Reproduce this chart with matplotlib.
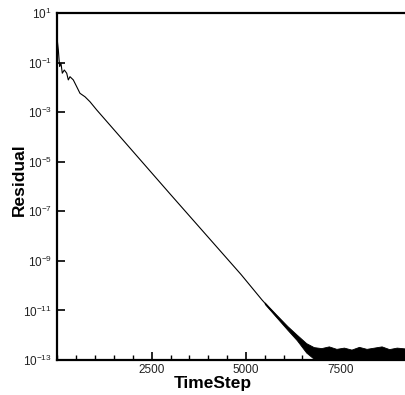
import numpy as np
import matplotlib
matplotlib.use("Agg")
import matplotlib.pyplot as plt
from matplotlib.ticker import FixedLocator, MultipleLocator, FuncFormatter

plt.rcParams['font.family'] = ['Liberation Sans', 'DejaVu Sans']
plt.rcParams['mathtext.fontset'] = 'custom'
plt.rcParams['mathtext.rm'] = 'Liberation Sans'
plt.rcParams['mathtext.it'] = 'Liberation Sans'
plt.rcParams['mathtext.bf'] = 'Liberation Sans:bold'

# residual history (log10 of residual)
steps = [0, 25, 45, 60, 95, 130, 183, 247, 289, 334, 422, 511, 599,
         732, 864, 1042, 3000, 4871, 5424, 5900, 6170, 6440, 6650]
log_res = [-0.15, -0.49, -0.90, -1.16, -1.03, -1.43, -1.30, -1.43, -1.70,
           -1.57, -1.70, -1.97, -2.24, -2.38, -2.58, -2.91, -6.32, -9.55,
           -10.57, -11.38, -11.80, -12.20, -12.50]

# noise band (upper / lower envelope of the oscillating residual)
band_steps = [5500, 5800, 6100, 6350, 6600, 6800, 7000, 7200, 7400, 7600,
              7800, 8000, 8200, 8400, 8600, 8800, 9000, 9200, 9400]
band_hi = [-10.68, -11.16, -11.63, -11.98, -12.32, -12.48, -12.52, -12.45,
           -12.55, -12.50, -12.58, -12.47, -12.55, -12.50, -12.45, -12.56,
           -12.50, -12.53, -12.50]
band_lo = [-10.74, -11.26, -11.78, -12.20, -12.70, -12.95, -13.05, -12.98,
           -13.05, -13.00, -13.05, -12.98, -13.05, -13.00, -13.05, -12.98,
           -13.05, -13.00, -13.05]

y_ticks = [1e1, 1e-1, 1e-3, 1e-5, 1e-7, 1e-9, 1e-11, 1e-13]
x_ticks = [2500, 5000, 7500]

fig = plt.figure(figsize=(4.05, 3.95), dpi=100)
ax = fig.add_axes([57.4 / 405, 35 / 395, 1 - 57.4 / 405, 347 / 395])

ax.fill_between(band_steps, 10 ** np.array(band_lo), 10 ** np.array(band_hi),
                color='black', lw=0.6)
ax.plot(steps, 10 ** np.array(log_res), color='black', lw=0.8)

ax.set_yscale('log')
ax.set_xlim(0, 9220)
ax.set_ylim(1e-13, 1e1)

ax.yaxis.set_major_locator(FixedLocator(y_ticks))
ax.yaxis.set_minor_locator(FixedLocator([]))
ax.yaxis.set_major_formatter(FuncFormatter(lambda v, p: r'$10^{%d}$' % round(np.log10(v))))
ax.xaxis.set_major_locator(FixedLocator(x_ticks))
ax.xaxis.set_minor_locator(MultipleLocator(500))

ax.tick_params(axis='both', which='major', direction='in', length=6, width=1.2,
               labelsize=8.5, colors='black')
ax.tick_params(axis='y', which='major', pad=4, labelcolor='#222222')
ax.tick_params(axis='x', which='major', pad=3, labelcolor='#222222')
ax.tick_params(axis='x', which='minor', direction='in', length=3.5, width=1)

ax.spines['right'].set_visible(False)
for s in ['left', 'top', 'bottom']:
    ax.spines[s].set_linewidth(1.6)

ax.set_xlabel('TimeStep', fontsize=12.5, fontweight='bold')
ax.set_ylabel('Residual', fontsize=12.5, fontweight='bold')
ax.xaxis.set_label_coords(0.448, -0.047)
ax.yaxis.set_label_coords(-0.087, 0.519)

fig.savefig('out.png', dpi=100)
